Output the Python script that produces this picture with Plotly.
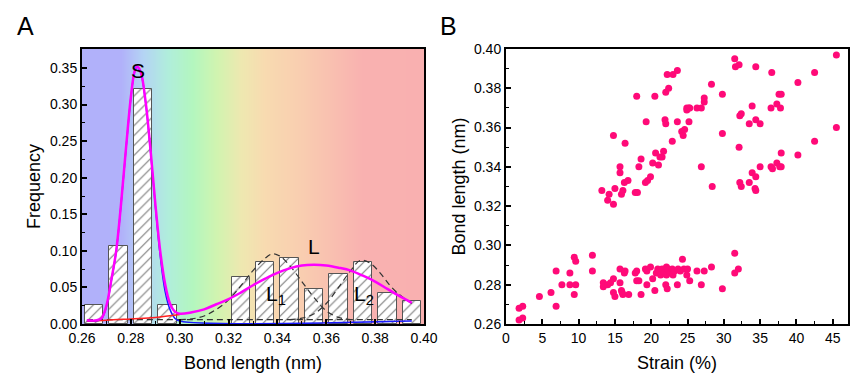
import plotly.graph_objects as go

# ---------------- Panel A data ----------------
bin_centers = [0.265, 0.275, 0.285, 0.295, 0.325, 0.335, 0.345, 0.355, 0.365, 0.375, 0.385, 0.395]
bin_freq = [0.026, 0.107, 0.321, 0.026, 0.064, 0.085, 0.090, 0.048, 0.069, 0.085, 0.042, 0.032]

sum_x = [0.262, 0.266, 0.268, 0.270, 0.272, 0.274, 0.276, 0.278, 0.280, 0.2815, 0.2825, 0.284,
         0.286, 0.288, 0.290, 0.292, 0.294, 0.296, 0.298, 0.300, 0.305, 0.310, 0.315, 0.320,
         0.325, 0.330, 0.335, 0.340, 0.345, 0.350, 0.355, 0.360, 0.365, 0.370, 0.375, 0.380,
         0.385, 0.390, 0.395]
sum_y = [0.005, 0.005, 0.008, 0.025, 0.060, 0.100, 0.165, 0.240, 0.310, 0.345, 0.352, 0.345,
         0.305, 0.240, 0.165, 0.100, 0.055, 0.028, 0.017, 0.014, 0.016, 0.020, 0.027, 0.034,
         0.043, 0.053, 0.062, 0.070, 0.076, 0.080, 0.081, 0.080, 0.077, 0.073, 0.066, 0.058,
         0.048, 0.038, 0.029]

s_x = [0.262, 0.266, 0.268, 0.270, 0.272, 0.274, 0.276, 0.278, 0.280, 0.2815, 0.2825, 0.284,
       0.286, 0.288, 0.290, 0.292, 0.294, 0.296, 0.298, 0.300, 0.395]
s_y = [0.004, 0.004, 0.007, 0.024, 0.059, 0.099, 0.164, 0.239, 0.309, 0.344, 0.351, 0.344,
       0.304, 0.238, 0.162, 0.094, 0.045, 0.020, 0.008, 0.004, 0.004]

l_tail_x = [0.262, 0.270, 0.280, 0.290, 0.300]
l_tail_y = [0.004, 0.005, 0.007, 0.009, 0.013]

base_x = [0.262, 0.395]
base_y = [0.006, 0.006]

l1_x = [0.300, 0.305, 0.310, 0.315, 0.320, 0.325, 0.330, 0.335, 0.338, 0.341, 0.345, 0.350,
        0.355, 0.360, 0.365, 0.370]
l1_y = [0.006, 0.007, 0.011, 0.020, 0.033, 0.052, 0.073, 0.090, 0.096, 0.093, 0.080, 0.058,
        0.036, 0.018, 0.009, 0.006]

l2_x = [0.345, 0.350, 0.355, 0.360, 0.365, 0.370, 0.374, 0.378, 0.382, 0.386, 0.390, 0.395]
l2_y = [0.006, 0.008, 0.014, 0.028, 0.050, 0.073, 0.087, 0.083, 0.070, 0.053, 0.040, 0.028]

bg_x = [0.25, 0.276, 0.285, 0.295, 0.305, 0.315, 0.325, 0.335, 0.350, 0.365, 0.375, 0.41]
bg_colors = ['#b1b1fa', '#b1b1fa', '#b4d4f4', '#b0eedb', '#b3f6bf', '#d0f4b0', '#eee8b0',
             '#f8dab0', '#f9cdb0', '#f9bcb0', '#f9b1b0', '#f9b0b0']

# ---------------- Panel B data ----------------
strain = [13.2, 14.2, 14.0, 14.8, 15.0, 14.8, 15.7, 15.7, 15.9, 16.1, 16.3, 16.4, 16.8, 17.8, 18.1,
          18.0, 18.3, 18.6, 19.3, 19.2, 19.5, 19.9, 20.2, 20.5, 20.6, 21.0, 21.2, 21.5, 21.7, 21.9,
          22.0, 22.0, 22.2, 22.4, 22.9, 23.0, 23.6, 23.6, 24.2, 24.4, 24.6, 24.9, 24.9, 25.2, 25.2,
          25.3, 26.3, 26.9, 26.9, 27.3, 27.3, 28.3, 28.4, 29.8, 29.8, 31.5, 31.6, 32.1, 32.2, 32.4,
          32.1, 32.2, 32.4, 33.5, 33.5, 33.9, 33.9, 34.4, 34.4, 34.4, 34.3, 34.4, 35.0, 35.0, 36.5,
          36.6, 36.5, 36.7, 37.3, 37.3, 37.6, 37.9, 37.8, 37.9, 37.7, 37.9, 40.2, 40.2, 42.5, 42.5,
          45.5, 45.5,
          1.8, 2.3, 1.8, 2.3, 4.6, 6.2, 6.9, 6.9, 7.7, 8.8, 8.8, 9.4, 9.6, 9.4, 9.6, 11.9, 11.9,
          13.4, 13.4, 14.0, 14.4, 14.8, 14.8, 15.0, 15.7, 15.7, 15.9, 16.0, 16.1, 16.3, 16.4, 16.9,
          17.8, 18.0, 18.0, 18.3, 18.6, 19.2, 19.4, 19.4, 19.9, 20.2, 20.5, 20.7, 20.9, 21.1, 21.3,
          21.5, 21.8, 22.0, 22.1, 22.1, 22.2, 22.3, 22.6, 22.9, 23.0, 23.2, 23.6, 23.7, 24.0, 24.3,
          24.5, 24.9, 25.0, 25.3, 26.3, 26.9, 27.3, 28.3, 29.8, 31.5, 31.5, 32.0]
bond = [0.328, 0.326, 0.323, 0.321, 0.329, 0.356, 0.340, 0.337, 0.326, 0.328, 0.332, 0.352, 0.333,
        0.327, 0.327, 0.376, 0.340, 0.344, 0.363, 0.332, 0.333, 0.335, 0.342, 0.376, 0.347, 0.341,
        0.345, 0.345, 0.348, 0.364, 0.362, 0.378, 0.387, 0.380, 0.353, 0.387, 0.363, 0.389, 0.358,
        0.356, 0.359, 0.369, 0.370, 0.370, 0.363, 0.370, 0.370, 0.370, 0.340, 0.373, 0.375, 0.382,
        0.330, 0.377, 0.357, 0.395, 0.391, 0.392, 0.366, 0.367, 0.350, 0.332, 0.330, 0.362, 0.332,
        0.371, 0.337, 0.391, 0.364, 0.335, 0.329, 0.328, 0.362, 0.340, 0.370, 0.388, 0.340, 0.339,
        0.372, 0.342, 0.377, 0.377, 0.370, 0.347, 0.340, 0.340, 0.383, 0.346, 0.388, 0.353, 0.397,
        0.360,
        0.268, 0.269, 0.262, 0.263, 0.274, 0.276, 0.287, 0.269, 0.280, 0.286, 0.280, 0.294, 0.292,
        0.275, 0.280, 0.295, 0.287, 0.281, 0.279, 0.280, 0.281, 0.283, 0.276, 0.274, 0.281, 0.288,
        0.277, 0.276, 0.275, 0.286, 0.287, 0.275, 0.286, 0.287, 0.282, 0.282, 0.275, 0.288, 0.287,
        0.280, 0.289, 0.283, 0.277, 0.286, 0.288, 0.287, 0.285, 0.288, 0.286, 0.280, 0.289, 0.285,
        0.278, 0.288, 0.286, 0.288, 0.285, 0.287, 0.280, 0.288, 0.287, 0.293, 0.288, 0.285, 0.288,
        0.282, 0.287, 0.280, 0.287, 0.289, 0.278, 0.296, 0.286, 0.288]

FONT = "Arial, Liberation Sans, sans-serif"
W, H, OFF = 864, 376, 8   # page body margin offsets the figure by 8 px


def fx(px):
    return (px - OFF) / W


def fy(py):
    return 1 - (py - OFF) / H


fig = go.Figure()

# gradient background of panel A
lo, hi = bg_x[0], bg_x[-1]
cscale = [[(v - lo) / (hi - lo), c] for v, c in zip(bg_x, bg_colors)]
fig.add_trace(go.Heatmap(x=bg_x, y=[-0.02, 0.40], z=[bg_x, bg_x], colorscale=cscale,
                         zmin=lo, zmax=hi, zsmooth="best", showscale=False, hoverinfo="skip",
                         xaxis="x", yaxis="y"))

fig.add_trace(go.Bar(x=bin_centers, y=bin_freq, width=0.0075,
                     marker=dict(color="white", line=dict(color="#555555", width=1),
                                 pattern=dict(shape="/", fgcolor="#777777", bgcolor="white",
                                              size=7, solidity=0.15)),
                     xaxis="x", yaxis="y", showlegend=False))

dash_line = dict(color="#333333", width=1.2, dash="6px,4px")
fig.add_trace(go.Scatter(x=base_x, y=base_y, mode="lines", line=dash_line, xaxis="x", yaxis="y"))
fig.add_trace(go.Scatter(x=l1_x, y=l1_y, mode="lines", line=dict(dash_line, shape="spline"),
                         xaxis="x", yaxis="y"))
fig.add_trace(go.Scatter(x=l2_x, y=l2_y, mode="lines", line=dict(dash_line, shape="spline"),
                         xaxis="x", yaxis="y"))
fig.add_trace(go.Scatter(x=s_x, y=s_y, mode="lines", line=dict(color="#1a1aff", width=1.5, shape="spline"),
                         xaxis="x", yaxis="y"))
fig.add_trace(go.Scatter(x=l_tail_x, y=l_tail_y, mode="lines", line=dict(color="#ff2020", width=1.5, shape="spline"),
                         xaxis="x", yaxis="y"))
fig.add_trace(go.Scatter(x=sum_x, y=sum_y, mode="lines", line=dict(color="#ff00ff", width=2.5, shape="spline"),
                         xaxis="x", yaxis="y"))

fig.add_trace(go.Scatter(x=strain, y=bond, mode="markers",
                         marker=dict(color="#ff0a78", size=7, line=dict(width=0)),
                         xaxis="x2", yaxis="y2"))

axis_common = dict(showline=True, linecolor="black", linewidth=2, mirror=True,
                   ticks="inside", ticklen=5, tickwidth=1.5, tickcolor="black",
                   showgrid=False, zeroline=False, automargin=False,
                   tickfont=dict(family=FONT, size=14, color="black"))
minor_common = dict(ticks="inside", ticklen=3, tickwidth=1, tickcolor="black")
title_font = dict(family=FONT, size=18, color="black")

fig.update_layout(
    template="none",
    width=W, height=H, margin=dict(l=0, r=0, t=0, b=0),
    paper_bgcolor="white", plot_bgcolor="white", showlegend=False,
    font=dict(family=FONT, color="black"),
    bargap=0,
    xaxis=dict(axis_common, domain=[fx(82), fx(424)], range=[0.26, 0.40],
               tickvals=[0.26, 0.28, 0.30, 0.32, 0.34, 0.36, 0.38, 0.40],
               ticktext=["0.26", "0.28", "0.30", "0.32", "0.34", "0.36", "0.38", "0.40"],
               minor=dict(minor_common, dtick=0.01),
               title=dict(text="Bond length (nm)", font=title_font, standoff=12),
               anchor="y"),
    yaxis=dict(axis_common, domain=[fy(324), fy(49)], range=[0, 0.376],
               tickvals=[0, 0.05, 0.10, 0.15, 0.20, 0.25, 0.30, 0.35],
               ticktext=["0.00", "0.05", "0.10", "0.15", "0.20", "0.25", "0.30", "0.35"],
               minor=dict(minor_common, dtick=0.025),
               title=dict(text="Frequency", font=title_font, standoff=5),
               anchor="x"),
    xaxis2=dict(axis_common, domain=[fx(506), fx(848)], range=[0, 47.1],
                tickvals=[0, 5, 10, 15, 20, 25, 30, 35, 40, 45],
                minor=dict(minor_common, dtick=2.5),
                title=dict(text="Strain (%)", font=title_font, standoff=12),
                anchor="y2"),
    yaxis2=dict(axis_common, domain=[fy(324), fy(49)], range=[0.26, 0.40],
                tickvals=[0.26, 0.28, 0.30, 0.32, 0.34, 0.36, 0.38, 0.40],
                ticktext=["0.26", "0.28", "0.30", "0.32", "0.34", "0.36", "0.38", "0.40"],
                minor=dict(minor_common, dtick=0.01),
                title=dict(text="Bond length (nm)", font=title_font, standoff=4),
                anchor="x2"),
)

ann_font = dict(family=FONT, size=21, color="black")
for txt, x, y in [("S", 0.2829, 0.347), ("L", 0.3548, 0.106),
                  ("L<sub>1</sub>", 0.3395, 0.040), ("L<sub>2</sub>", 0.3755, 0.040)]:
    fig.add_annotation(text=txt, x=x, y=y, xref="x", yref="y", showarrow=False, font=ann_font)

for txt, px in [("A", 25), ("B", 449)]:
    fig.add_annotation(text=txt, x=fx(px), y=fy(26), xref="paper", yref="paper",
                       xanchor="center", yanchor="middle", showarrow=False,
                       font=dict(family=FONT, size=25, color="black"))

fig.write_html("out.html")
